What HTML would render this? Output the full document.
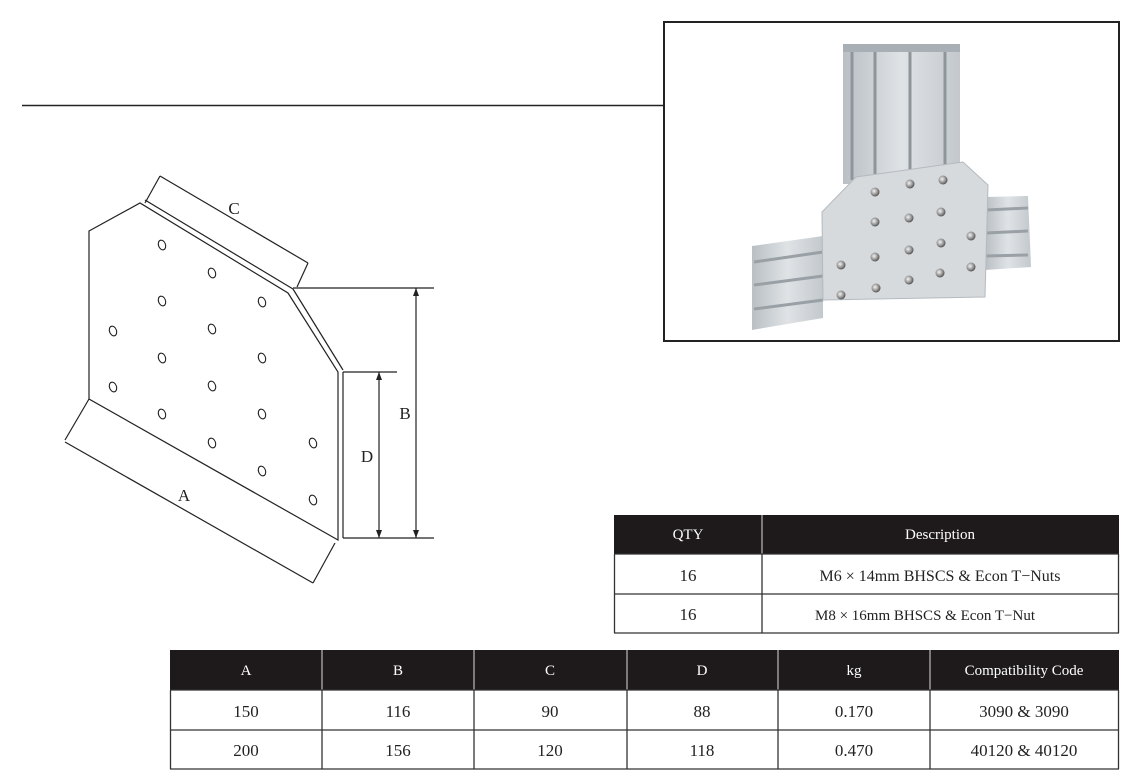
<!DOCTYPE html>
<html><head><meta charset="utf-8"><style>
html,body{margin:0;padding:0;background:#fff;}
svg{display:block;}
text{font-family:"Liberation Serif",serif;}
</style></head><body>
<svg width="1141" height="782" viewBox="0 0 1141 782" xmlns="http://www.w3.org/2000/svg">
<defs>
<radialGradient id="scr" cx="40%" cy="40%" r="60%"><stop offset="0" stop-color="#f4f4f4"/><stop offset="0.6" stop-color="#9a9a9a"/><stop offset="1" stop-color="#555"/></radialGradient>
<linearGradient id="ext" x1="0" x2="1"><stop offset="0" stop-color="#b9bfc4"/><stop offset="0.5" stop-color="#dfe3e6"/><stop offset="1" stop-color="#c3c8cc"/></linearGradient>
</defs>
<!-- top rule -->
<line x1="22" y1="105.5" x2="664" y2="105.5" stroke="#222" stroke-width="1.5"/>
<!-- photo box -->
<rect x="664" y="22" width="455" height="319" fill="#fff" stroke="#222" stroke-width="2"/>
<!-- vertical extrusion -->
<rect x="843" y="44" width="117" height="140" fill="url(#ext)"/>
<g stroke="#8e959b" stroke-width="3"><line x1="852" y1="50" x2="852" y2="180"/><line x1="875" y1="52" x2="875" y2="180"/><line x1="910" y1="52" x2="910" y2="180"/><line x1="945" y1="50" x2="945" y2="180"/></g>
<rect x="843" y="44" width="117" height="8" fill="#a9b0b5"/>
<!-- right horizontal extrusion -->
<polygon points="985,197 1028,196 1031,267 985,270" fill="url(#ext)"/>
<g stroke="#9aa1a6" stroke-width="3"><line x1="986" y1="210" x2="1028" y2="208"/><line x1="986" y1="233" x2="1028" y2="231"/><line x1="986" y1="256" x2="1028" y2="255"/></g>
<!-- left horizontal extrusion -->
<polygon points="752,246 823,236 823,318 752,330" fill="url(#ext)"/>
<g stroke="#9aa1a6" stroke-width="3"><line x1="754" y1="262" x2="823" y2="252"/><line x1="754" y1="285" x2="823" y2="276"/><line x1="754" y1="309" x2="823" y2="300"/></g>
<!-- plate -->
<polygon points="822,212 856,177 963,162 988,185 985,297 823,300" fill="#d6dadd" stroke="#b4babf"/>
<g fill="url(#scr)">
<circle cx="875" cy="192" r="4.5"/><circle cx="910" cy="184" r="4.5"/><circle cx="943" cy="180" r="4.5"/>
<circle cx="875" cy="222" r="4.5"/><circle cx="909" cy="218" r="4.5"/><circle cx="941" cy="212" r="4.5"/>
<circle cx="875" cy="257" r="4.5"/><circle cx="909" cy="250" r="4.5"/><circle cx="941" cy="243" r="4.5"/><circle cx="971" cy="236" r="4.5"/>
<circle cx="841" cy="265" r="4.5"/><circle cx="971" cy="267" r="4.5"/>
<circle cx="841" cy="295" r="4.5"/><circle cx="876" cy="288" r="4.5"/><circle cx="909" cy="280" r="4.5"/><circle cx="940" cy="273" r="4.5"/>
</g>

<!-- plate drawing -->
<g fill="none" stroke="#222" stroke-width="1.2">
<polygon points="89,231 140,203 288,293 338,372 338,540 89,399"/>
<line x1="145" y1="200" x2="293" y2="289"/>
<line x1="293" y1="289" x2="343" y2="370"/>
<line x1="343" y1="372" x2="343" y2="538"/>
<!-- C dim -->
<line x1="160" y1="176" x2="308" y2="263"/>
<line x1="145" y1="203" x2="160" y2="176"/>
<line x1="297" y1="287" x2="308" y2="263"/>
<!-- B dim -->
<line x1="293" y1="288" x2="434" y2="288"/>
<line x1="343" y1="538" x2="434" y2="538"/>
<line x1="416" y1="288" x2="416" y2="538"/>
<!-- D dim -->
<line x1="343" y1="372" x2="397" y2="372"/>
<line x1="379" y1="372" x2="379" y2="538"/>
<!-- A dim -->
<line x1="65" y1="442" x2="313" y2="583"/>
<line x1="89" y1="399" x2="65" y2="440"/>
<line x1="335" y1="543" x2="313" y2="583"/>
</g>
<g fill="#222">
<polygon points="416,288 413,296 419,296"/><polygon points="416,538 413,530 419,530"/>
<polygon points="379,372 376,380 382,380"/><polygon points="379,538 376,530 382,530"/>
</g>
<g fill="none" stroke="#222" stroke-width="1.1">
<ellipse cx="162" cy="245" rx="3.5" ry="5" transform="rotate(-20 162 245)"/>
<ellipse cx="212" cy="273" rx="3.5" ry="5" transform="rotate(-20 212 273)"/>
<ellipse cx="162" cy="301" rx="3.5" ry="5" transform="rotate(-20 162 301)"/>
<ellipse cx="262" cy="302" rx="3.5" ry="5" transform="rotate(-20 262 302)"/>
<ellipse cx="113" cy="331" rx="3.5" ry="5" transform="rotate(-20 113 331)"/>
<ellipse cx="212" cy="329" rx="3.5" ry="5" transform="rotate(-20 212 329)"/>
<ellipse cx="162" cy="358" rx="3.5" ry="5" transform="rotate(-20 162 358)"/>
<ellipse cx="262" cy="358" rx="3.5" ry="5" transform="rotate(-20 262 358)"/>
<ellipse cx="113" cy="387" rx="3.5" ry="5" transform="rotate(-20 113 387)"/>
<ellipse cx="212" cy="386" rx="3.5" ry="5" transform="rotate(-20 212 386)"/>
<ellipse cx="162" cy="414" rx="3.5" ry="5" transform="rotate(-20 162 414)"/>
<ellipse cx="262" cy="414" rx="3.5" ry="5" transform="rotate(-20 262 414)"/>
<ellipse cx="212" cy="443" rx="3.5" ry="5" transform="rotate(-20 212 443)"/>
<ellipse cx="313" cy="443" rx="3.5" ry="5" transform="rotate(-20 313 443)"/>
<ellipse cx="262" cy="471" rx="3.5" ry="5" transform="rotate(-20 262 471)"/>
<ellipse cx="313" cy="500" rx="3.5" ry="5" transform="rotate(-20 313 500)"/>
</g>
<g font-size="17" fill="#222" text-anchor="middle">
<text x="234" y="214">C</text>
<text x="405" y="419">B</text>
<text x="367" y="462">D</text>
<text x="184" y="501">A</text>
</g>

<!-- QTY table -->
<rect x="614" y="515" width="505" height="39" fill="#1e1a1b"/>
<g stroke="#bbb" stroke-width="1.2"><line x1="762" y1="515" x2="762" y2="554"/></g>
<g stroke="#333" stroke-width="1.3" fill="none">
<line x1="614" y1="554" x2="1119" y2="554"/>
<line x1="614" y1="594" x2="1119" y2="594"/>
<line x1="614" y1="633" x2="1119" y2="633"/>
<line x1="614.5" y1="554" x2="614.5" y2="633"/>
<line x1="762" y1="554" x2="762" y2="633"/>
<line x1="1118.5" y1="554" x2="1118.5" y2="633"/>
</g>
<g font-size="15" fill="#fff" text-anchor="middle">
<text x="688" y="539">QTY</text><text x="940" y="539">Description</text>
</g>
<g font-size="17" fill="#222" text-anchor="middle">
<text x="688" y="581">16</text><text x="940" y="581" font-size="16">M6 × 14mm BHSCS &amp; Econ T−Nuts</text>
<text x="688" y="620">16</text><text x="925" y="620" font-size="15">M8 × 16mm BHSCS &amp; Econ T−Nut</text>
</g>

<!-- dimensions table -->
<rect x="170" y="650" width="949" height="40" fill="#1e1a1b"/>
<g stroke="#bbb" stroke-width="1.2">
<line x1="322" y1="650" x2="322" y2="690"/><line x1="474" y1="650" x2="474" y2="690"/><line x1="627" y1="650" x2="627" y2="690"/><line x1="778" y1="650" x2="778" y2="690"/><line x1="930" y1="650" x2="930" y2="690"/>
</g>
<g stroke="#333" stroke-width="1.3" fill="none">
<line x1="170" y1="690" x2="1119" y2="690"/><line x1="170" y1="730" x2="1119" y2="730"/><line x1="170" y1="769" x2="1119" y2="769"/>
<line x1="170.5" y1="690" x2="170.5" y2="769"/><line x1="322" y1="690" x2="322" y2="769"/><line x1="474" y1="690" x2="474" y2="769"/><line x1="627" y1="690" x2="627" y2="769"/><line x1="778" y1="690" x2="778" y2="769"/><line x1="930" y1="690" x2="930" y2="769"/><line x1="1118.5" y1="690" x2="1118.5" y2="769"/>
</g>
<g font-size="15" fill="#fff" text-anchor="middle">
<text x="246" y="675">A</text><text x="398" y="675">B</text><text x="550" y="675">C</text><text x="702" y="675">D</text><text x="854" y="675">kg</text><text x="1024" y="675">Compatibility Code</text>
</g>
<g font-size="17" fill="#222" text-anchor="middle">
<text x="246" y="717">150</text><text x="398" y="717">116</text><text x="550" y="717">90</text><text x="702" y="717">88</text><text x="854" y="717">0.170</text><text x="1024" y="717">3090 &amp; 3090</text>
<text x="246" y="756">200</text><text x="398" y="756">156</text><text x="550" y="756">120</text><text x="702" y="756">118</text><text x="854" y="756">0.470</text><text x="1024" y="756">40120 &amp; 40120</text>
</g>
</svg>
</body></html>
